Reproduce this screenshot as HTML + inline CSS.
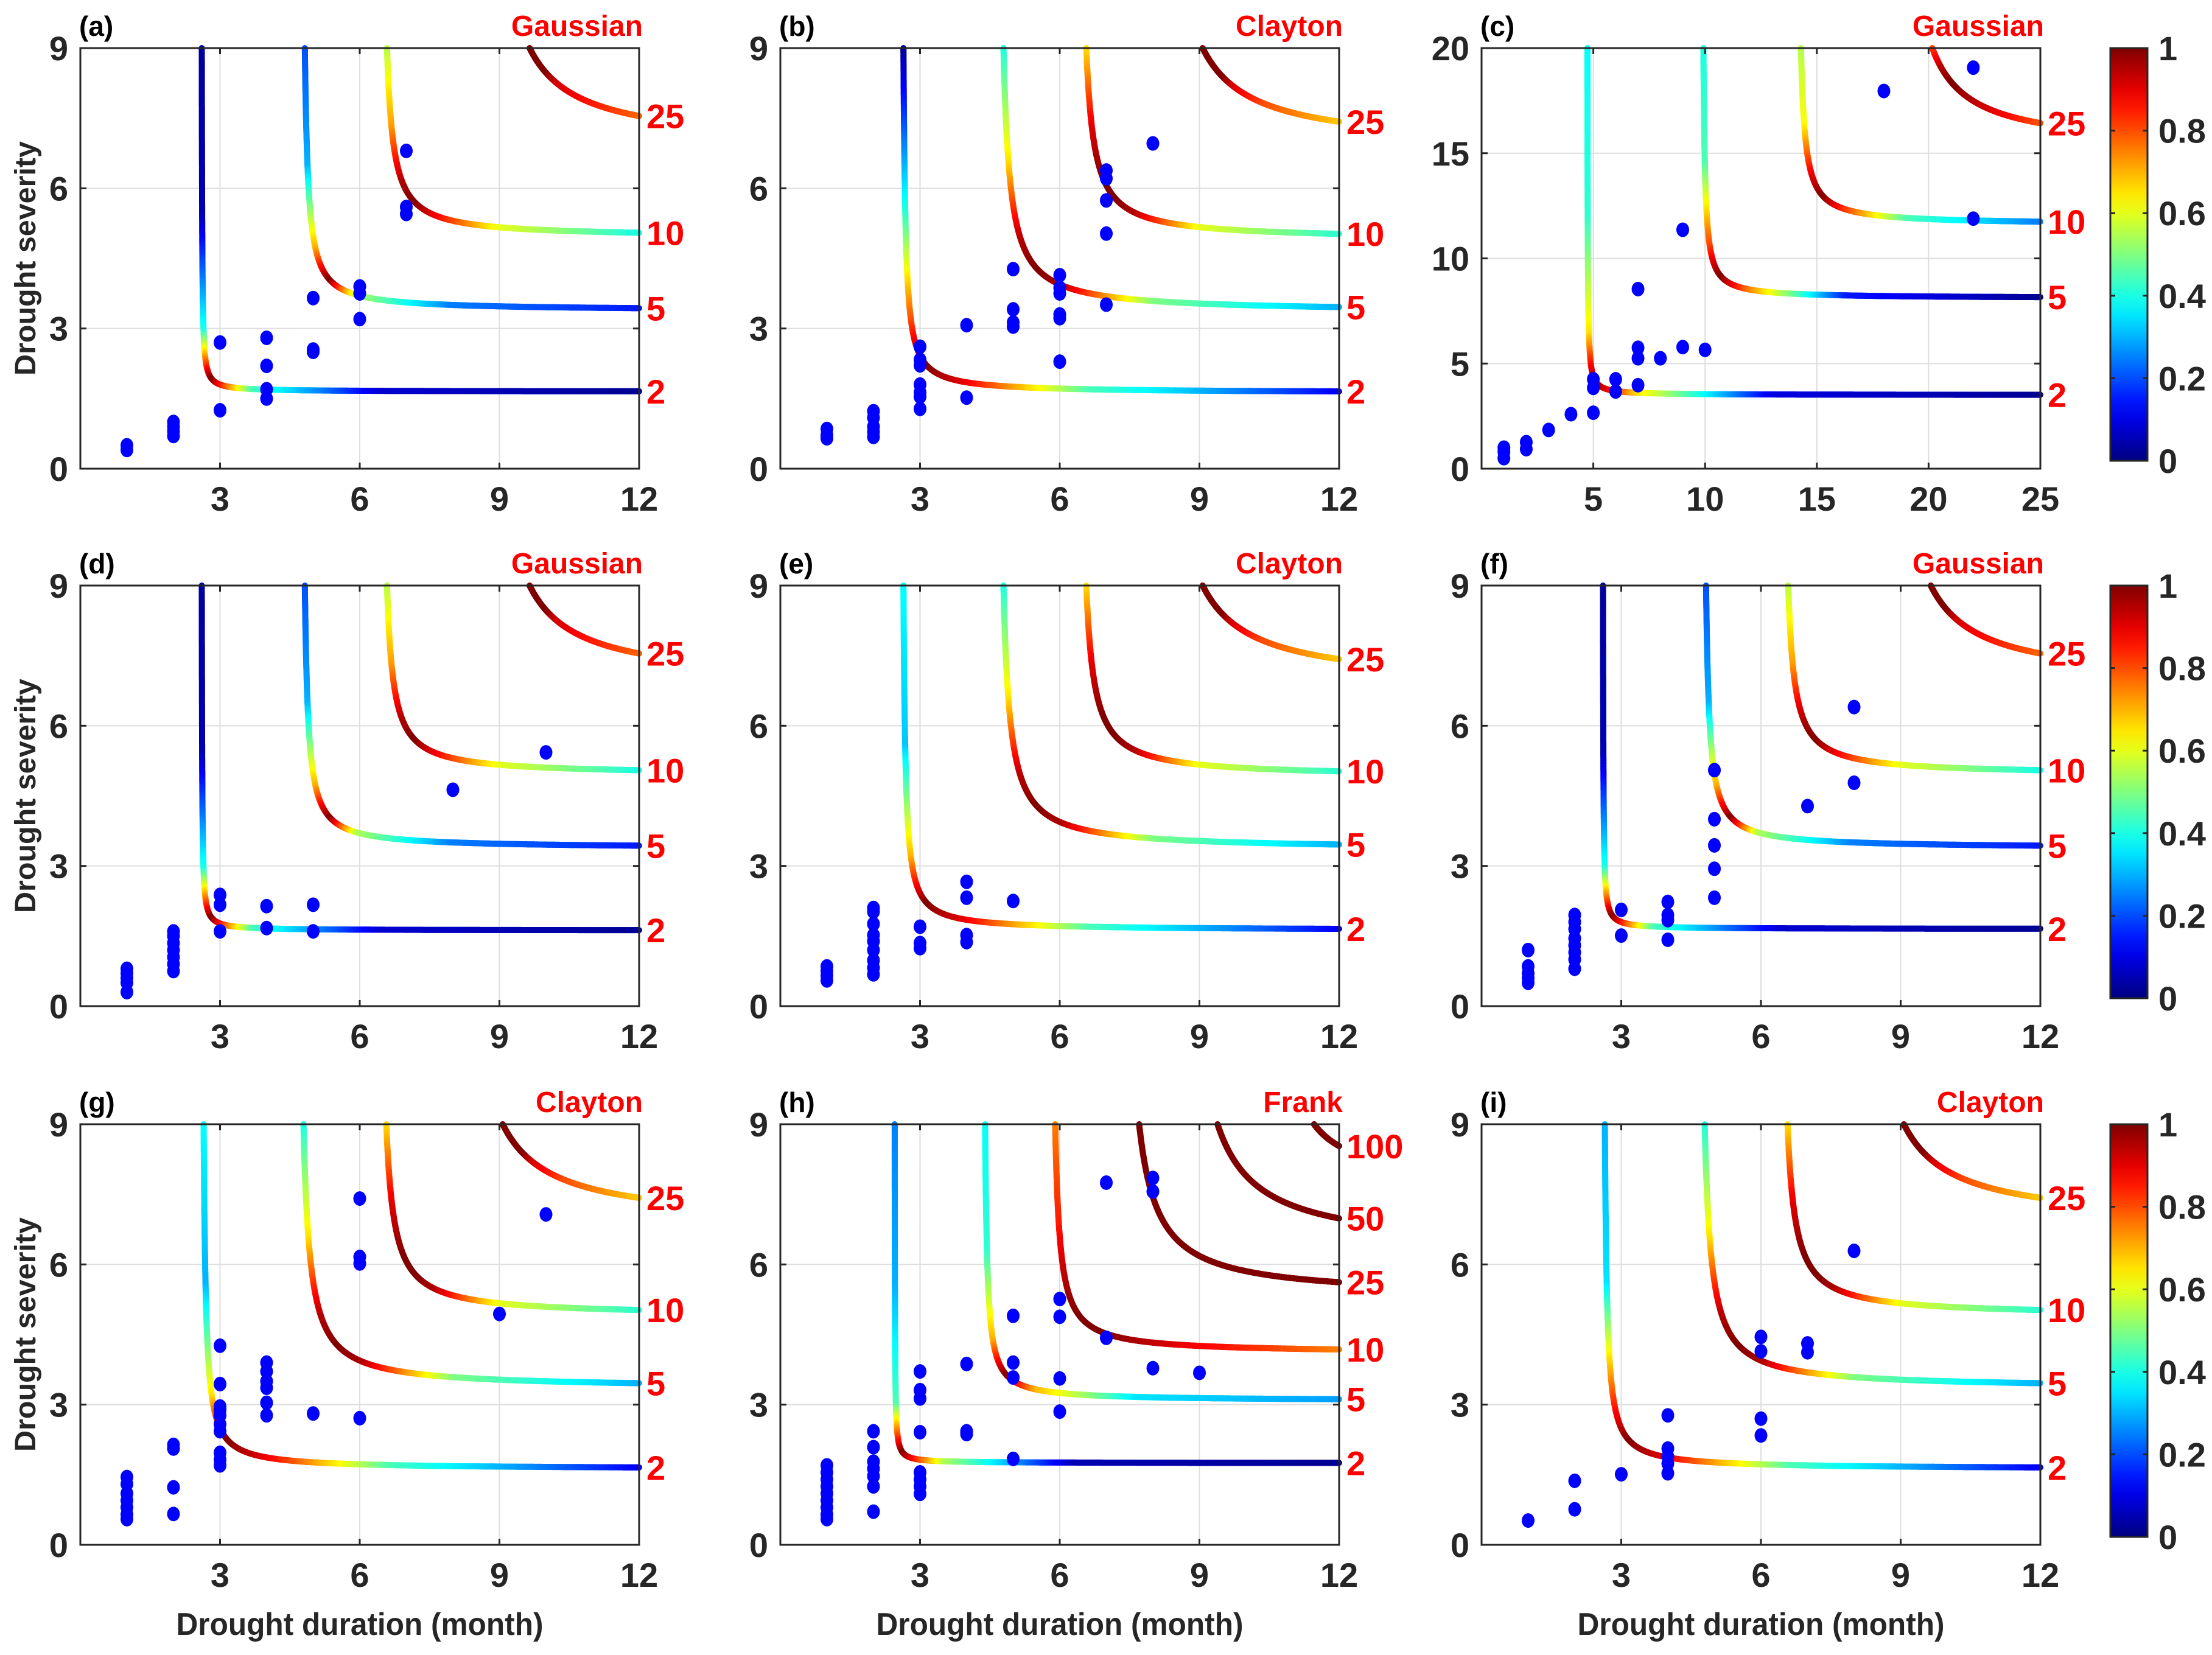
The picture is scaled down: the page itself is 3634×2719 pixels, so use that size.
<!DOCTYPE html>
<html><head><meta charset="utf-8"><style>
html,body{margin:0;padding:0;background:#fff;}
svg{display:block;}
text{font-family:"Liberation Sans Narrow","Liberation Sans",sans-serif;font-weight:bold;}
</style></head><body>
<svg id="fig" xmlns="http://www.w3.org/2000/svg" width="3634" height="2719" viewBox="0 0 3634 2719">
<rect width="3634" height="2719" fill="#fff"/>
</svg>
<script>
// ---------- data ----------
const panelLabels = ["(a)","(b)","(c)","(d)","(e)","(f)","(g)","(h)","(i)"];
const copulaNames = ["Gaussian","Clayton","Gaussian","Gaussian","Clayton","Gaussian","Clayton","Frank","Clayton"];
const xMaxes = [12,12,25,12,12,12,12,12,12];
const yMaxes = [9,9,20,9,9,9,9,9,9];
const xTicks12 = [3,6,9,12];
const xTicks25 = [5,10,15,20,25];
const yTicks9 = [0,3,6,9];
const yTicks20 = [0,5,10,15,20];
const cbTicks = [0,0.2,0.4,0.6,0.8,1];
const cbTickLabels = ["0","0.2","0.4","0.6","0.8","1"];

// return period labels per panel
const rpLabels = [
 ["2","5","10","25"],["2","5","10","25"],["2","5","10","25"],
 ["2","5","10","25"],["2","5","10","25"],["2","5","10","25"],
 ["2","5","10","25"],["2","5","10","25","50","100"],["2","5","10","25"]];
// curve params: vertical asymptote x0, horizontal asymptote y0, constant k
const curveX0 = [
 [2.6,4.75,6.45,8.6],[2.6,4.65,6.4,8.0],[4.72,9.85,14.1,18.5],
 [2.6,4.75,6.45,8.6],[2.6,4.65,6.4,8.0],[2.6,4.75,6.45,8.6],
 [2.6,4.65,6.4,8.0],[2.45,4.35,5.8,7.3,8.5,10.5],[2.6,4.65,6.4,8.0]];
const curveY0 = [
 [1.65,3.38,4.95,6.9],[1.62,3.35,4.9,6.85],[3.5,8.1,11.6,15.2],
 [1.62,3.38,4.95,6.9],[1.62,3.35,4.9,6.85],[1.65,3.38,4.95,6.9],
 [1.62,3.35,4.9,6.85],[1.75,3.08,4.1,5.3,6.3,7.7],[1.62,3.35,4.9,6.85]];
const curveK = [
 [0.06,0.4,0.55,2.2],[0.32,0.8,0.7,2.3],[0.25,0.9,1.6,8],
 [0.06,0.4,0.55,2.2],[0.32,0.8,0.7,2.3],[0.06,0.4,0.55,2.2],
 [0.35,0.8,0.7,2.3],[0.04,0.28,0.5,1.5,2.4,1.25],[0.35,0.8,0.7,2.3]];
// colour values along each curve (top ... knee ... right end)
const gaussCols = [[0.03,0.05,0.4,1.0,0.45,0.08,0.02],[0.2,0.3,0.7,1.0,0.55,0.25,0.15],[0.55,0.72,0.95,1.0,0.9,0.6,0.4],[1,1,1,0.97,0.92,0.87,0.78]];
const claytonRest = [[0.4,0.65,0.95,1,0.95,0.5,0.3],[0.65,0.9,1,1,0.95,0.6,0.42],[1,1,1,1,0.92,0.8,0.68]];
const curveCols = [
 gaussCols,
 [[0.02,0.4,0.8,1,0.9,0.45,0.12]].concat(claytonRest),
 [[0.38,0.42,0.65,1.0,0.65,0.1,0.02],[0.4,0.45,0.8,1.0,0.75,0.15,0.02],[0.55,0.62,0.9,1.0,0.85,0.45,0.25],[0.8,0.95,1,1,0.97,0.92,0.8]],
 gaussCols,
 [[0.38,0.32,0.7,1,0.9,0.45,0.12]].concat(claytonRest),
 gaussCols,
 [[0.38,0.3,0.65,1,0.9,0.45,0.12]].concat(claytonRest),
 [[0.25,0.3,0.45,1.0,0.55,0.05,0.02],[0.38,0.42,0.7,1.0,0.7,0.35,0.28],[0.75,0.85,0.97,1,1,0.9,0.75],[1,1,1,1,1,1,1],[1,1,1,1,1,1,1],[1,1,1,1,1,1,1]],
 [[0.3,0.35,0.8,1,0.9,0.45,0.12]].concat(claytonRest)];

// observed events (duration, severity)
const pointsX = [
 [1,1,2,2,2,2,3,3,4,4,4,4,5,5,5,6,6,6,7,7,7],
 [1,1,1,2,2,2,2,2,3,3,3,3,3,3,3,4,4,5,5,5,5,6,6,6,6,6,6,7,7,7,7,7,8],
 [1,1,1,2,2,3,4,5,5,5,6,6,7,7,7,7,8,9,9,10,18,22,22],
 [1,1,1,1,1,2,2,2,2,2,2,2,3,3,3,4,4,5,5,8,10],
 [1,1,1,1,2,2,2,2,2,2,2,2,2,3,3,3,4,4,4,4,5],
 [1,1,1,1,1,2,2,2,2,2,2,2,2,3,3,4,4,4,4,5,5,5,5,5,7,8,8],
 [1,1,1,1,1,1,1,2,2,2,2,3,3,3,3,3,3,3,3,3,3,4,4,4,4,4,4,5,6,6,6,6,9,10],
 [1,1,1,1,1,1,1,1,1,2,2,2,2,2,2,2,3,3,3,3,3,3,3,3,4,4,4,5,5,5,5,6,6,6,6,7,7,8,8,8,9],
 [1,2,2,3,4,4,4,4,4,6,6,6,6,7,7,8]];
const pointsY = [
 [0.4,0.5,0.7,0.8,0.9,1.0,2.7,1.25,2.8,2.2,1.7,1.5,3.65,2.5,2.55,3.9,3.75,3.2,6.8,5.6,5.45],
 [0.85,0.72,0.65,1.23,1.09,0.9,0.79,0.68,2.61,2.33,2.21,1.8,1.63,1.54,1.28,3.07,1.52,4.27,3.41,3.13,3.04,4.14,3.87,3.75,3.3,3.22,2.29,6.38,6.21,5.74,5.03,3.51,6.96],
 [0.5,0.8,1.0,1.26,0.93,1.84,2.59,2.66,3.84,4.25,4.25,3.67,8.54,5.75,5.25,3.97,5.25,11.36,5.78,5.65,17.96,19.07,11.89],
 [0.8,0.7,0.6,0.5,0.3,1.6,1.5,1.35,1.2,1.05,0.9,0.75,2.38,2.17,1.6,2.14,1.67,2.17,1.6,4.63,5.43],
 [0.85,0.75,0.65,0.55,2.1,2.02,1.76,1.52,1.39,1.2,0.98,0.82,0.68,1.7,1.35,1.24,2.66,2.32,1.52,1.37,2.25],
 [1.2,0.85,0.7,0.6,0.5,1.95,1.8,1.65,1.45,1.3,1.15,1.0,0.8,2.06,1.51,2.23,1.95,1.84,1.42,5.05,4.0,3.44,2.94,2.32,4.28,6.4,4.78],
 [1.45,1.3,1.1,0.95,0.8,0.65,0.55,2.14,2.06,1.23,0.66,4.26,3.44,2.96,2.89,2.77,2.58,2.43,1.97,1.82,1.7,3.9,3.71,3.5,3.36,3.04,2.77,2.81,7.41,6.16,6.02,2.71,4.94,7.07],
 [1.7,1.55,1.4,1.25,1.1,0.95,0.8,0.65,0.55,2.43,2.09,1.78,1.63,1.47,1.25,0.71,3.71,3.31,3.13,2.41,1.55,1.4,1.25,1.09,3.87,2.43,2.37,4.9,3.9,3.58,1.84,5.26,4.88,3.56,2.85,7.75,4.43,7.85,7.56,3.78,3.68],
 [0.52,1.37,0.76,1.51,2.77,2.06,1.89,1.74,1.53,4.45,4.14,2.7,2.34,4.31,4.12,6.29]];

// ---------- layout ----------
const colLeft = [132,1282,2434];
const rowTop = [79,962,1847];
const PW = 918, PH = 691;
const svg = document.getElementById('fig');
const NS = 'http://www.w3.org/2000/svg';
function mk(tag, attrs, parent){
  const e = document.createElementNS(NS, tag);
  for (const k in attrs) e.setAttribute(k, attrs[k]);
  (parent||svg).appendChild(e);
  return e;
}
function jet(v){
  v = Math.max(0, Math.min(1, v));
  const c = t => Math.round(255*Math.max(0, Math.min(1, t)));
  return `rgb(${c(1.5-Math.abs(4*v-3))},${c(1.5-Math.abs(4*v-2))},${c(1.5-Math.abs(4*v-1))})`;
}

for (let p = 0; p < 9; p++) {
  const L = colLeft[p%3], T = rowTop[Math.floor(p/3)];
  const xmax = xMaxes[p], ymax = yMaxes[p];
  const sx = v => L + v/xmax*PW;
  const sy = v => T + PH - v/ymax*PH;
  const g = mk('g', {});
  
  
  const xt = xmax === 25 ? xTicks25 : xTicks12;
  const yt = ymax === 20 ? yTicks20 : yTicks9;
  xt.forEach(t => { const l = mk('line', {x1:sx(t),x2:sx(t),y1:T,y2:T+PH,stroke:'#dedede','stroke-width':2}, g);
      });
  yt.forEach(t => { const l = mk('line', {x1:L,x2:L+PW,y1:sy(t),y2:sy(t),stroke:'#dedede','stroke-width':2}, g);
      });
  const clip = mk('clipPath', {id:'clip'+p}, g);
  mk('rect', {x:L, y:T-6, width:PW+6, height:PH+6}, clip);
  const cg = mk('g', {'clip-path':`url(#clip${p})`}, g);
  const x0s = curveX0[p], y0s = curveY0[p], ks = curveK[p];
  const kx = PW/xmax, ky = PH/ymax;
  for (let c = 0; c < x0s.length; c++) {
    const x0 = x0s[c], y0 = y0s[c], k = ks[c];
    const pts = [];
    const dx = Math.sqrt(k*ky/kx);
    const xk = x0 + dx, yk = y0 + k/dx;
    const N = 220;
    if (yk < ymax) {
      for (let i = 0; i <= N; i++) { const y = ymax - (ymax-yk)*i/N; pts.push([x0 + k/(y-y0), y]); }
    }
    const xs = yk < ymax ? xk : x0 + k/(ymax-y0);
    for (let i = 1; i <= N*2; i++) { const x = xs + (xmax-xs)*i/(N*2); pts.push([x, y0 + k/(x-x0)]); }
    const pp = pts.map(q => [sx(q[0]), sy(q[1])]);
    const arc = [0];
    for (let i = 1; i < pp.length; i++) arc.push(arc[i-1] + Math.hypot(pp[i][0]-pp[i-1][0], pp[i][1]-pp[i-1][1]));
    const tot = arc[arc.length-1];
    const K = yk < ymax ? arc[N]/tot : 0.02;
    const stopPos = [0, 0.5*K, 0.85*K, K, K+0.1*(1-K), K+0.4*(1-K), 1];
    const vals = curveCols[p][c];
    const colAt = f => { for (let s = 1; s < stopPos.length; s++) if (f <= stopPos[s]) {
        const a = (f-stopPos[s-1])/Math.max(1e-9, stopPos[s]-stopPos[s-1]); return vals[s-1] + (vals[s]-vals[s-1])*a; }
      return vals[vals.length-1]; };
    const curveG = mk('g', {'stroke-width':10, 'stroke-linecap':'round'}, cg);
    
    
    for (let i = 1; i < pp.length; i++) {
      if (pp[i][1] < T-5 && pp[i-1][1] < T-5) continue;
      mk('line', {x1:pp[i-1][0].toFixed(1), y1:pp[i-1][1].toFixed(1), x2:pp[i][0].toFixed(1), y2:pp[i][1].toFixed(1), stroke: jet(colAt(arc[i]/tot))}, curveG);
    }
    const lt = mk('text', {x:L+PW+12, y:sy(y0 + k/(xmax-x0)) + 20, fill:'#ff0000', 'font-size':56}, g);
    
    
    lt.textContent = rpLabels[p][c];
  }
  const px = pointsX[p], py = pointsY[p];
  for (let i = 0; i < px.length; i++) {
    const e = mk('ellipse', {cx:sx(px[i]), cy:sy(py[i]), rx:10.5, ry:12, fill:'#0000ff'}, g);
    
    
  }
  const fr = mk('rect', {x:L, y:T, width:PW, height:PH, fill:'none', stroke:'#262626', 'stroke-width':3}, g);
   
  xt.forEach(t => { mk('line', {x1:sx(t),x2:sx(t),y1:T+PH,y2:T+PH-10,stroke:'#262626','stroke-width':3}, g);
    mk('line', {x1:sx(t),x2:sx(t),y1:T,y2:T+10,stroke:'#262626','stroke-width':3}, g);
    const tx = mk('text', {x:sx(t), y:T+PH+69, 'text-anchor':'middle', 'font-size':56, fill:'#262626'}, g);
      tx.textContent = t; });
  yt.forEach(t => { mk('line', {x1:L,x2:L+10,y1:sy(t),y2:sy(t),stroke:'#262626','stroke-width':3}, g);
    mk('line', {x1:L+PW,x2:L+PW-10,y1:sy(t),y2:sy(t),stroke:'#262626','stroke-width':3}, g);
    const ty = mk('text', {x:L-20, y:sy(t)+20, 'text-anchor':'end', 'font-size':56, fill:'#262626'}, g);
      ty.textContent = t; });
  const pl = mk('text', {x:L-2, y:T-20, 'font-size':46, fill:'#000'}, g);
    pl.textContent = panelLabels[p];
  const cn = mk('text', {x:L+PW+6, y:T-20, 'text-anchor':'end', 'font-size':48, fill:'#ff0000'}, g);
    cn.textContent = copulaNames[p];
  if (p%3 === 0) {
    const yl = mk('text', {x:0, y:0, 'text-anchor':'middle', 'font-size':48, fill:'#262626', transform:`translate(58,${T+PH/2}) rotate(-90)`,
      style:'font-family:"Liberation Sans",sans-serif', textLength:385, lengthAdjust:'spacingAndGlyphs'}, g);
      yl.textContent = 'Drought severity';
  }
  if (p >= 6) {
    const xl = mk('text', {x:L+PW/2, y:2686, 'text-anchor':'middle', 'font-size':52, fill:'#262626', textLength:603, lengthAdjust:'spacingAndGlyphs'}, g);
      xl.textContent = 'Drought duration (month)';
  }
}
const defs = mk('defs', {});
const grad = mk('linearGradient', {id:'jetgrad', x1:0, y1:1, x2:0, y2:0}, defs);
for (let i = 0; i <= 20; i++) mk('stop', {offset:i/20, 'stop-color':jet(i/20)}, grad);
const cbTop = [79,962,1847];
cbTop.forEach((t, r) => {
  const H = 678, X = 3467, W = 61;
  const g = mk('g', {});
  
  
  mk('rect', {x:X, y:t, width:W, height:H, fill:'url(#jetgrad)', stroke:'#262626', 'stroke-width':3}, g);
  cbTicks.forEach((v, i) => {
    const y = t + H - v*H;
    mk('line', {x1:X, x2:X+8, y1:y, y2:y, stroke:'#262626', 'stroke-width':3}, g);
    mk('line', {x1:X+W, x2:X+W-8, y1:y, y2:y, stroke:'#262626', 'stroke-width':3}, g);
    const tl = mk('text', {x:X+W+18, y:y+20, 'font-size':56, fill:'#262626'}, g);
    
    
    tl.textContent = cbTickLabels[i];
  });
});
</script>
</body></html>
